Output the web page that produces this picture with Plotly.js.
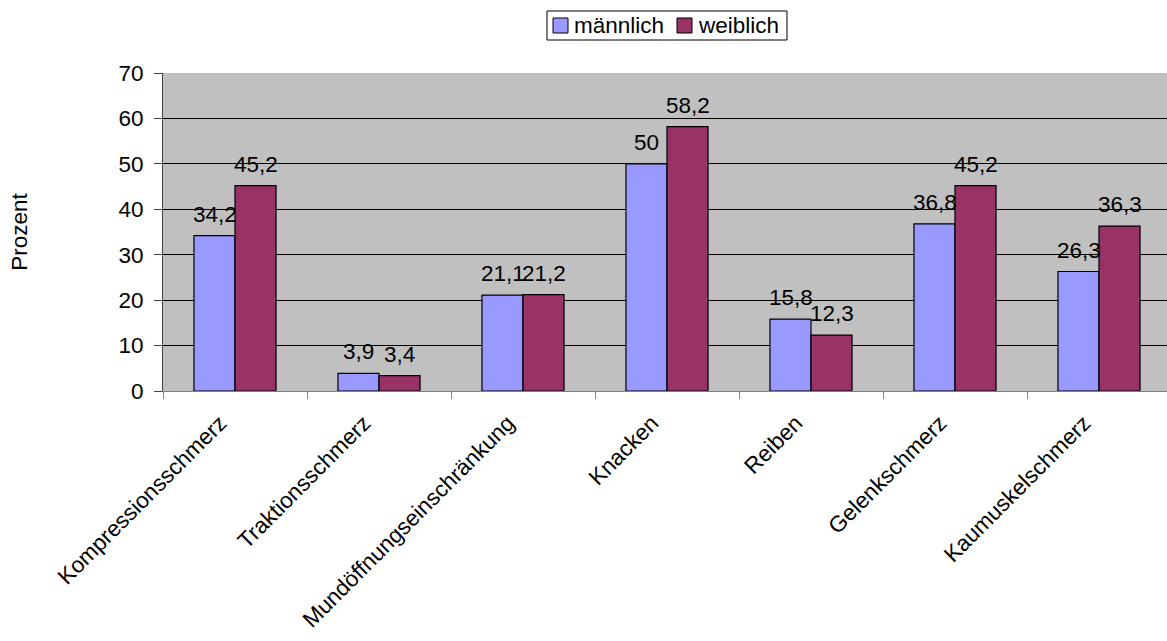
<!DOCTYPE html>
<html>
<head>
<meta charset="utf-8">
<script src="https://cdn.plot.ly/plotly-3.0.1.min.js"></script>
<style>
  html, body { margin: 0; padding: 0; overflow: hidden; background: #fff; }
  #chart { width: 1175px; height: 641px; }
</style>
</head>
<body>
<div id="chart"></div>
<script>
// Befunde nach Geschlecht (Angaben in Prozent)
const categories = [
  "Kompressionsschmerz",
  "Traktionsschmerz",
  "Mundöffnungseinschränkung",
  "Knacken",
  "Reiben",
  "Gelenkschmerz",
  "Kaumuskelschmerz"
];
const seriesNames = ["männlich", "weiblich"];
const maennlich = [34.2, 3.9, 21.1, 50, 15.8, 36.8, 26.3];
const weiblich  = [45.2, 3.4, 21.2, 58.2, 12.3, 45.2, 36.3];
const yTicks = [0, 10, 20, 30, 40, 50, 60, 70];

const COLORS = ["#9999FF", "#993366"];
const FONT = "Liberation Sans, Arial, sans-serif";
const FS = 22.5;
const fmt = v => String(v).replace(".", ",");

// Plotbereich in Pixeln (für die Legende in Papierkoordinaten)
const W = 1175, H = 641;
const M = { l: 163, r: 4, t: 73, b: 250 };
const plotW = W - M.l - M.r, plotH = H - M.t - M.b;
const px = x => (x - M.l) / plotW;
const py = y => (H - M.b - y) / plotH;

const traces = [maennlich, weiblich].map((vals, k) => ({
  type: "bar", name: seriesNames[k], x: categories, y: vals,
  marker: { color: COLORS[k], line: { color: "#000000", width: 1.2 } }
}));

// Wertebeschriftungen über den Balken
const annotations = [];
const half = 20.5;
[maennlich, weiblich].forEach((vals, k) => {
  categories.forEach((c, i) => {
    annotations.push({ x: c, y: vals[i], xref: "x", yref: "y", text: fmt(vals[i]),
      showarrow: false, xshift: k === 0 ? -half : half, yanchor: "bottom", yshift: 7,
      font: { family: FONT, size: FS, color: "#000" } });
  });
});

// Legende: Rahmen, Farbfelder, Beschriftungen
const shapes = [
  { type: "rect", xref: "paper", yref: "paper",
    x0: px(547), x1: px(787), y0: py(40), y1: py(11),
    line: { color: "#000", width: 1 }, fillcolor: "#fff", layer: "above" }
];
const legendSym = [553, 677], legendTxt = [572, 696];
seriesNames.forEach((name, k) => {
  shapes.push({ type: "rect", xref: "paper", yref: "paper",
    x0: px(legendSym[k]), x1: px(legendSym[k] + 15), y0: py(33), y1: py(18),
    line: { color: "#000", width: 1 }, fillcolor: COLORS[k], layer: "above" });
  annotations.push({ xref: "paper", yref: "paper", x: px(legendTxt[k]), y: py(26),
    xanchor: "left", yanchor: "middle", text: name, showarrow: false,
    font: { family: FONT, size: FS, color: "#000" } });
});

const layout = {
  width: W, height: H,
  margin: { l: M.l, r: M.r, t: M.t, b: M.b, pad: 0 },
  paper_bgcolor: "#ffffff",
  plot_bgcolor: "#C0C0C0",
  font: { family: FONT, size: FS, color: "#000" },
  barmode: "group",
  bargap: 0.43,
  bargroupgap: 0,
  showlegend: false,
  xaxis: {
    type: "category",
    range: [-0.5, 6.5],
    tickangle: -45,
    tickson: "boundaries",
    ticks: "outside", ticklen: 7, tickcolor: "#808080", tickwidth: 1,
    ticklabelstandoff: 9, ticklabelshift: -15,
    showline: true, linecolor: "#808080", linewidth: 1,
    showgrid: false, zeroline: false,
    tickfont: { family: FONT, size: FS }
  },
  yaxis: {
    range: [0, 70],
    tickvals: yTicks,
    ticktext: yTicks.map(String),
    ticks: "outside", ticklen: 8, tickcolor: "#404040", tickwidth: 1,
    ticklabelstandoff: 6,
    showline: true, linecolor: "#404040", linewidth: 1,
    showgrid: true, gridcolor: "#000000", gridwidth: 1,
    zeroline: false,
    tickfont: { family: FONT, size: FS },
    title: { text: "Prozent", standoff: 84, font: { family: FONT, size: FS } }
  },
  shapes: shapes,
  annotations: annotations
};

Plotly.newPlot("chart", traces, layout, { displayModeBar: false, staticPlot: true });
</script>
</body>
</html>
